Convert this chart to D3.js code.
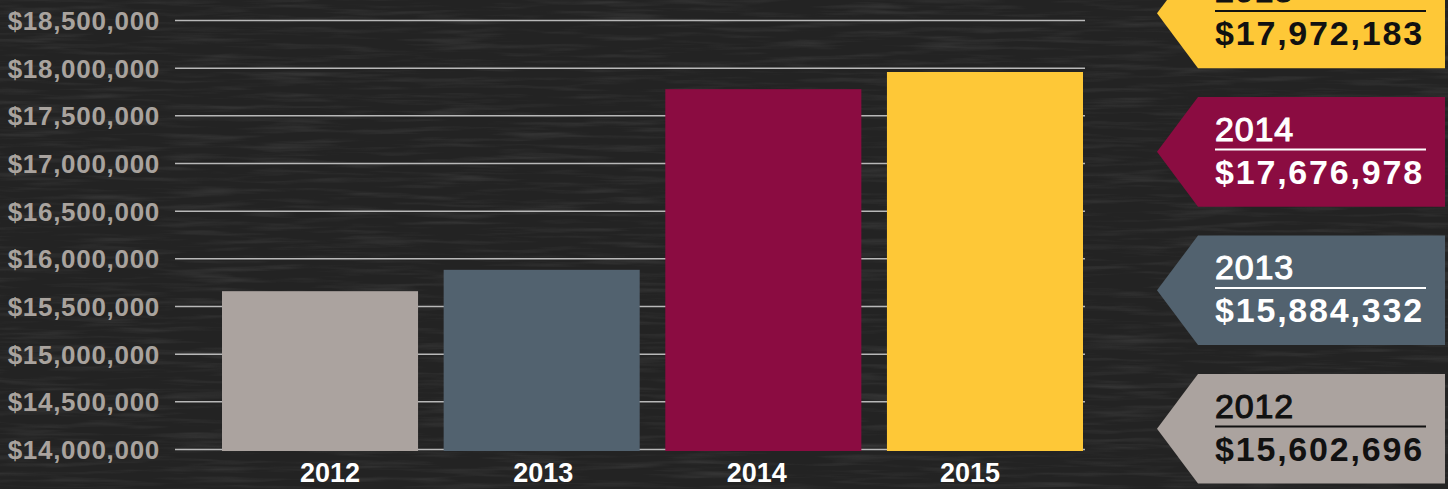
<!DOCTYPE html>
<html>
<head>
<meta charset="utf-8">
<script src="https://cdn.jsdelivr.net/npm/d3@7"></script>
<style>
  html, body { margin: 0; padding: 0; background: #252525; overflow: hidden; }
  text { font-family: "Liberation Sans", Arial, Helvetica, sans-serif; }
</style>
</head>
<body>
<div id="areaDibujo"></div>
<script>
// datos
var years = ['2012', '2013', '2014', '2015'];
var barValues = [15666000, 15890000, 17785000, 17965000];
var boxValues = ['$15,602,696', '$15,884,332', '$17,676,978', '$17,972,183'];
var yTicks = [14000000, 14500000, 15000000, 15500000, 16000000, 16500000, 17000000, 17500000, 18000000, 18500000];
var barColors = ['#aba39f', '#52626f', '#8b0c41', '#fec837'];
var boxText = ['#111111', '#ffffff', '#ffffff', '#111111'];

var width = 1448;
var height = 489;

var svg = d3.select('#areaDibujo').append('svg')
  .attr('width', width)
  .attr('height', height);

// fondo tipo pizarra
var defs = svg.append('defs');
var filtro = defs.append('filter').attr('id', 'grano')
  .attr('x', 0).attr('y', 0).attr('width', '100%').attr('height', '100%');
filtro.append('feTurbulence')
  .attr('type', 'fractalNoise')
  .attr('baseFrequency', '0.012 0.18')
  .attr('numOctaves', 3)
  .attr('seed', 7);
filtro.append('feColorMatrix')
  .attr('type', 'matrix')
  .attr('values', '0 0 0 0 0.3  0 0 0 0 0.3  0 0 0 0 0.3  1.2 0 0 0 -0.55');

svg.append('rect').attr('width', width).attr('height', height).attr('fill', '#232323');
svg.append('rect').attr('width', width).attr('height', height).attr('filter', 'url(#grano)').attr('opacity', 0.3);

var y = d3.scaleLinear()
  .domain([14000000, 18500000])
  .range([450, 21]);

var x = d3.scaleBand()
  .domain(years)
  .range([222, 1083])
  .paddingInner(0.1155)
  .paddingOuter(0);

var xLabel = d3.scalePoint()
  .domain(years)
  .range([330, 970]);

var fmt = d3.format('$,');

// lineas de grilla
svg.selectAll('.grid')
  .data(yTicks)
  .enter().append('line')
  .attr('class', 'grid')
  .attr('x1', 175)
  .attr('x2', 1085)
  .attr('y1', function(d) { return y(d) - 0.5; })
  .attr('y2', function(d) { return y(d) - 0.5; })
  .attr('stroke', '#b8b8b8')
  .attr('stroke-width', 1.5);

svg.selectAll('.ylab')
  .data(yTicks)
  .enter().append('text')
  .attr('class', 'ylab')
  .attr('x', 160)
  .attr('y', function(d) { return y(d); })
  .attr('dy', '0.35em')
  .style('text-anchor', 'end')
  .attr('font-size', '26px')
  .attr('font-weight', 'bold')
  .attr('letter-spacing', '0.7px')
  .attr('fill', '#a9a39e')
  .text(function(d) { return fmt(d); });

// barras
svg.selectAll('.bar')
  .data(barValues)
  .enter().append('rect')
  .attr('class', 'bar')
  .attr('x', function(d, i) { return x(years[i]); })
  .attr('width', x.bandwidth())
  .attr('y', function(d) { return y(d); })
  .attr('height', function(d) { return y(14000000) + 1 - y(d); })
  .attr('fill', function(d, i) { return barColors[i]; });

svg.selectAll('.xlab')
  .data(years)
  .enter().append('text')
  .attr('class', 'xlab')
  .attr('x', function(d) { return xLabel(d); })
  .attr('y', 482)
  .style('text-anchor', 'middle')
  .attr('font-size', '27px')
  .attr('font-weight', 'bold')
  .attr('fill', '#ffffff')
  .text(function(d) { return d; });

// etiquetas de la derecha (2015 arriba)
var yBox = d3.scaleBand()
  .domain(years.slice().reverse())
  .range([-41.4, 483.6])
  .paddingInner(0.209)
  .paddingOuter(0);

var tipX = 1157, bodyX = 1198, rightX = 1445, textX = 1215;
var hBox = yBox.bandwidth();

var box = svg.selectAll('.box')
  .data(years)
  .enter().append('g')
  .attr('class', 'box')
  .attr('transform', function(d) { return 'translate(0,' + yBox(d) + ')'; });

box.append('polygon')
  .attr('points', [[tipX, hBox / 2], [bodyX, 0], [rightX, 0], [rightX, hBox], [bodyX, hBox]].join(' '))
  .attr('fill', function(d, i) { return barColors[i]; });

box.append('text')
  .attr('x', textX)
  .attr('y', 43.5)
  .attr('font-size', '34px')
  .attr('letter-spacing', '0.8px')
  .attr('fill', function(d, i) { return boxText[i]; })
  .attr('stroke', function(d, i) { return boxText[i]; })
  .attr('stroke-width', 1.1)
  .text(function(d) { return d; });

box.append('line')
  .attr('x1', textX)
  .attr('x2', 1426)
  .attr('y1', 52.5)
  .attr('y2', 52.5)
  .attr('stroke', function(d, i) { return boxText[i]; })
  .attr('stroke-width', 2);

box.append('text')
  .attr('x', textX)
  .attr('y', 86.5)
  .attr('font-size', '34px')
  .attr('font-weight', 'bold')
  .attr('letter-spacing', '1.8px')
  .attr('fill', function(d, i) { return boxText[i]; })
  .text(function(d, i) { return boxValues[i]; });
</script>
</body>
</html>
